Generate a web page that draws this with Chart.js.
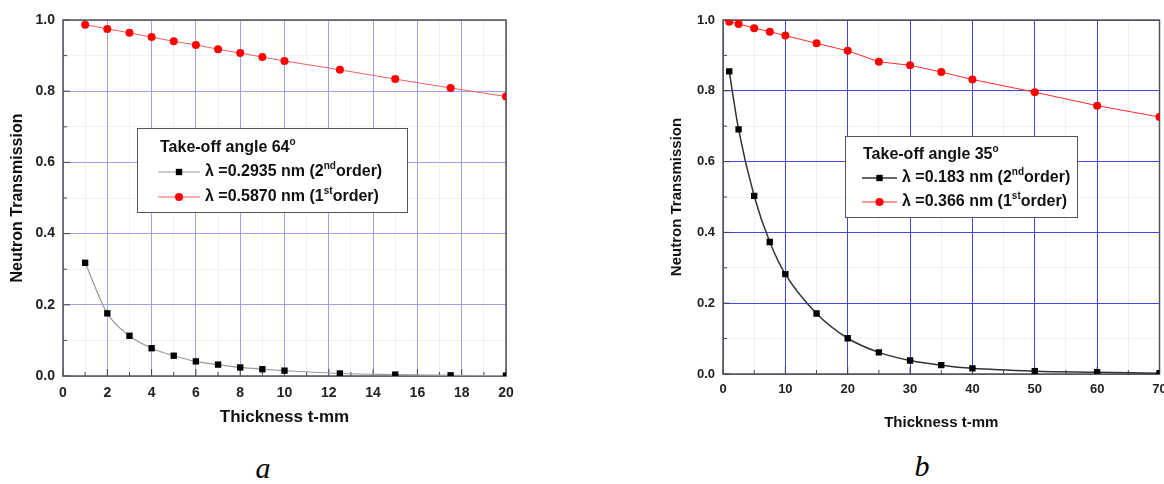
<!DOCTYPE html>
<html>
<head>
<meta charset="utf-8">
<script src="https://cdn.jsdelivr.net/npm/chart.js@4.4.1/dist/chart.umd.min.js"></script>
<style>
  body { margin: 0; background: #fff; width: 1164px; height: 484px; position: relative; overflow: hidden; }
  canvas { position: absolute; top: 0; }
  #chartA { left: 0; }
  #chartB { left: 660px; }
  .caption { position: absolute; font: italic 30px "Liberation Serif", "Times New Roman", serif; color: #000; transform: translate(-50%, -50%); }
</style>
</head>
<body>
<canvas id="chartA" width="540" height="440" style="width:540px;height:440px"></canvas>
<canvas id="chartB" width="504" height="440" style="width:504px;height:440px"></canvas>
<div class="caption" style="left:263px;top:468px">a</div>
<div class="caption" style="left:922px;top:466px">b</div>
<script>
// Panel a: take-off angle 64 deg
const thickA = [1, 2, 3, 4, 5, 6, 7, 8, 9, 10, 12.5, 15, 17.5, 20];
const order2A = [0.318, 0.176, 0.113, 0.078, 0.057, 0.041, 0.032, 0.024, 0.019, 0.015, 0.007, 0.004, 0.002, 0.001];
const order1A = [0.987, 0.975, 0.964, 0.952, 0.940, 0.930, 0.918, 0.907, 0.896, 0.885, 0.860, 0.834, 0.809, 0.785];
const legendA = ['Take-off angle 64', 'λ =0.2935 nm (2', 'λ =0.5870 nm (1'];

// Panel b: take-off angle 35 deg
const thickB = [1, 2.5, 5, 7.5, 10, 15, 20, 25, 30, 35, 40, 50, 60, 70];
const order2B = [0.855, 0.691, 0.503, 0.373, 0.282, 0.171, 0.101, 0.061, 0.038, 0.025, 0.016, 0.008, 0.005, 0.002];
const order1B = [0.995, 0.989, 0.977, 0.967, 0.956, 0.934, 0.913, 0.882, 0.872, 0.853, 0.832, 0.796, 0.758, 0.726];
const legendB = ['Take-off angle 35', 'λ =0.183 nm (2', 'λ =0.366 nm (1'];

const FONT = '"Liberation Sans", Arial, sans-serif';

function isMajor(v, step) {
  const r = v / step;
  return Math.abs(r - Math.round(r)) < 1e-6;
}

// text with small raised parts (superscripts)
function drawRich(ctx, parts, x, y, size) {
  ctx.textBaseline = 'middle';
  ctx.textAlign = 'left';
  parts.forEach(p => {
    if (p.sup) {
      ctx.font = `bold ${Math.round(size * 0.6)}px ${FONT}`;
      ctx.fillText(p.t, x, y - size * 0.38);
    } else {
      ctx.font = `bold ${size}px ${FONT}`;
      ctx.fillText(p.t, x, y);
    }
    x += ctx.measureText(p.t).width;
  });
}

// plot frame + inward tick marks
const framePlugin = {
  id: 'frame',
  beforeDatasetsDraw(chart) {
    const {ctx, chartArea: a, scales} = chart;
    ctx.save();
    ctx.strokeStyle = '#444';
    ctx.lineWidth = 1;
    scales.x.ticks.forEach(t => {
      const px = scales.x.getPixelForValue(t.value);
      const len = isMajor(t.value, chart.options.scales.x.majorStep) ? 7 : 4;
      ctx.beginPath(); ctx.moveTo(px, a.bottom); ctx.lineTo(px, a.bottom - len); ctx.stroke();
    });
    scales.y.ticks.forEach(t => {
      const py = scales.y.getPixelForValue(t.value);
      const len = isMajor(t.value, 0.2) ? 7 : 4;
      ctx.beginPath(); ctx.moveTo(a.left, py); ctx.lineTo(a.left + len, py); ctx.stroke();
    });
    ctx.lineWidth = 1.5;
    ctx.strokeStyle = '#555';
    ctx.strokeRect(a.left, a.top, a.right - a.left, a.bottom - a.top);
    ctx.restore();
  }
};

// boxed legend inside the plot
const boxLegendPlugin = {
  id: 'boxLegend',
  afterDraw(chart, args, o) {
    const {ctx, chartArea: a} = chart;
    const bx = a.left + o.box[0], by = a.top + o.box[1];
    ctx.save();
    ctx.fillStyle = '#fff';
    ctx.fillRect(bx, by, o.box[2], o.box[3]);
    ctx.strokeStyle = '#555';
    ctx.lineWidth = 1;
    ctx.strokeRect(bx + 0.5, by + 0.5, o.box[2], o.box[3]);
    ctx.fillStyle = '#111';
    drawRich(ctx, [{t: o.text[0]}, {t: 'o', sup: true}], a.left + o.titleX, a.top + o.titleY, o.size);
    const sups = ['nd', 'st'];
    chart.data.datasets.forEach((ds, i) => {
      const y = a.top + o.rowY[i];
      ctx.strokeStyle = ds.borderColor;
      ctx.lineWidth = ds.borderWidth;
      ctx.beginPath();
      ctx.moveTo(a.left + o.lineX[0], y);
      ctx.lineTo(a.left + o.lineX[1], y);
      ctx.stroke();
      ctx.fillStyle = ds.pointBackgroundColor;
      Chart.helpers.drawPoint(ctx, {pointStyle: ds.pointStyle, radius: ds.pointRadius, borderWidth: 0, rotation: 0},
        a.left + (o.lineX[0] + o.lineX[1]) / 2, y);
      ctx.fillStyle = '#111';
      drawRich(ctx, [{t: o.text[i + 1]}, {t: sups[i], sup: true}, {t: 'order)'}], a.left + o.textX, y, o.size);
    });
    ctx.restore();
  }
};

function buildChart(id, cfg) {
  return new Chart(document.getElementById(id), {
    type: 'line',
    data: {
      datasets: [
        {
          label: cfg.legend[1],
          data: cfg.x.map((x, i) => ({x, y: cfg.order2[i]})),
          borderColor: cfg.blackLine,
          borderWidth: cfg.blackWidth,
          pointStyle: 'rect',
          pointRadius: 4.5,
          pointBackgroundColor: '#000',
          pointBorderWidth: 0,
          cubicInterpolationMode: 'monotone'
        },
        {
          label: cfg.legend[2],
          data: cfg.x.map((x, i) => ({x, y: cfg.order1[i]})),
          borderColor: cfg.redLine,
          borderWidth: 1,
          pointStyle: 'circle',
          pointRadius: 4,
          pointBackgroundColor: '#ff0000',
          pointBorderWidth: 0,
          tension: 0
        }
      ]
    },
    options: {
      responsive: false,
      animation: false,
      events: [],
      layout: {padding: {top: 20, right: cfg.padRight, left: 0, bottom: 0}},
      plugins: {
        legend: {display: false},
        tooltip: {enabled: false},
        boxLegend: cfg.box
      },
      scales: {
        x: {
          type: 'linear',
          min: 0,
          max: cfg.xMax,
          majorStep: cfg.xMajor,
          afterFit: s => { s.height = cfg.xAxisHeight; s.paddingLeft = 0; s.paddingRight = 0; },
          border: {display: false},
          grid: {
            drawTicks: false,
            lineWidth: 1,
            color: c => isMajor(c.tick.value, cfg.xMajor) ? cfg.gridColor : cfg.minorColor
          },
          ticks: {
            stepSize: cfg.xMinor,
            autoSkip: false,
            maxRotation: 0,
            padding: cfg.xTickPad,
            color: '#222',
            font: {family: FONT, size: cfg.tickSize, weight: 'bold'},
            callback: v => isMajor(v, cfg.xMajor) ? String(v) : ''
          },
          title: {
            display: true,
            text: 'Thickness t-mm',
            color: '#111',
            font: {family: FONT, size: cfg.xTitleSize, weight: 'bold'},
            padding: {top: 0, bottom: cfg.xTitlePad}
          }
        },
        y: {
          min: 0,
          max: 1,
          afterFit: s => { s.width = 63; s.paddingTop = 0; s.paddingBottom = 0; },
          border: {display: false},
          grid: {
            drawTicks: false,
            lineWidth: 1,
            color: c => isMajor(c.tick.value, 0.2) ? cfg.gridColor : cfg.minorColor
          },
          ticks: {
            stepSize: 0.1,
            autoSkip: false,
            padding: 8,
            color: '#222',
            font: {family: FONT, size: cfg.tickSize, weight: 'bold'},
            callback: v => isMajor(v, 0.2) ? v.toFixed(1) : ''
          },
          title: {
            display: true,
            text: 'Neutron Transmission',
            color: '#111',
            font: {family: FONT, size: cfg.yTitleSize, weight: 'bold'},
            padding: {top: 8, bottom: 0}
          }
        }
      }
    },
    plugins: [framePlugin, boxLegendPlugin]
  });
}

buildChart('chartA', {
  x: thickA, order2: order2A, order1: order1A, legend: legendA,
  xMax: 20, xMajor: 2, xMinor: 1,
  blackLine: '#9a9a9a', blackWidth: 1.2, redLine: '#f06060',
  gridColor: 'rgb(160,160,238)', minorColor: 'rgba(0,0,80,0.05)',
  padRight: 34, xAxisHeight: 64, xTickPad: 9, xTitlePad: 12,
  tickSize: 14, xTitleSize: 17, yTitleSize: 16,
  box: {box: [74, 108, 270, 84], titleX: 97, titleY: 128, rowY: [152, 177], lineX: [95, 137], textX: 142, text: legendA, size: 16}
});

buildChart('chartB', {
  x: thickB, order2: order2B, order1: order1B, legend: legendB,
  xMax: 70, xMajor: 10, xMinor: 5,
  blackLine: '#333', blackWidth: 1.5, redLine: '#ff2a2a',
  gridColor: 'rgb(70,70,230)', minorColor: 'rgba(0,0,80,0.06)',
  padRight: 3, xAxisHeight: 66, xTickPad: 8, xTitlePad: 8,
  tickSize: 13, xTitleSize: 15, yTitleSize: 15,
  box: {box: [122, 116, 232, 81], titleX: 140, titleY: 135, rowY: [158, 182], lineX: [139, 174], textX: 179, text: legendB, size: 16}
});
</script>
</body>
</html>
